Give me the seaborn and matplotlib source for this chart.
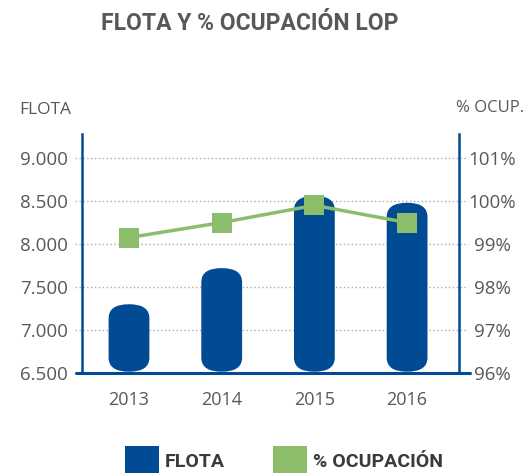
import numpy as np
import pandas as pd
import matplotlib
matplotlib.use("Agg")
import matplotlib.pyplot as plt
import seaborn as sns
from matplotlib import font_manager
from matplotlib.patches import FancyBboxPatch, Rectangle
from matplotlib.lines import Line2D
from matplotlib.transforms import blended_transform_factory

# --- Data ---
years = ["2013", "2014", "2015", "2016"]
flota = [7300, 7720, 8560, 8480]
ocupacion = [99.15, 99.5, 99.9, 99.5]
flota_ticks = [6500, 7000, 7500, 8000, 8500, 9000]
flota_labels = ["6.500", "7.000", "7.500", "8.000", "8.500", "9.000"]
ocup_ticks = [96, 97, 98, 99, 100, 101]
ocup_labels = ["96%", "97%", "98%", "99%", "100%", "101%"]

BLUE = "#004B93"
GREEN = "#8BBD6B"
GRAY = "#585858"
DARK = "#3A3A3A"

# --- Fonts: pick the first installed family ---
available = {f.name for f in font_manager.fontManager.ttflist}


def pick(*names):
    for n in names:
        if n in available:
            return n
    return "DejaVu Sans"


sns.set_style("white")
body_font = pick("Open Sans", "Roboto", "Noto Sans")
title_font = pick("Liberation Sans Narrow", "DejaVu Sans Condensed", "Roboto", "Open Sans")
plt.rcParams["font.family"] = [body_font, "DejaVu Sans"]

W, H = 527, 473
fig = plt.figure(figsize=(W / 100, H / 100), dpi=100)
ax = fig.add_axes([82 / W, 1 - 373 / H, (459 - 82) / W, (373 - 134) / H])

# --- Bars (FLOTA) ---
df = pd.DataFrame({"year": years, "flota": flota})
sns.barplot(data=df, x="year", y="flota", color=BLUE, saturation=1,
            width=0.44, ax=ax)
ax.set_xlim(-0.507, 3.56)
ax.set_ylim(6500, 9280)

# replace the square bars with rounded "pill" bars
px_y = ax.transData.transform((0, 1000))[1] - ax.transData.transform((0, 0))[1]
base = 6515
for p in list(ax.patches):
    x, w, h = p.get_x(), p.get_width(), p.get_height()
    p.remove()
    r = w / 2
    ry_data = 14 / (px_y / 1000)
    aspect = ry_data / r
    ax.add_patch(FancyBboxPatch((x, base), w, h - base,
                                boxstyle=f"round,pad=0,rounding_size={r}",
                                mutation_aspect=aspect, fc=BLUE, ec="none",
                                zorder=2))

# --- Dotted gridlines, a bit past both axes ---
trans = blended_transform_factory(ax.transAxes, ax.transData)
for t in flota_ticks[1:]:
    ax.plot([-0.018, 1.025], [t, t], transform=trans, color="#ababab",
            lw=1.0, ls=(0, (1, 1.8)), clip_on=False, zorder=1)

# bottom axis line, extended
ax.add_line(Line2D([-0.016, 1.029], [0, 0], transform=ax.transAxes,
                   color=BLUE, lw=2.2, clip_on=False, zorder=5))

for s in ["top", "right", "bottom"]:
    ax.spines[s].set_visible(False)
ax.spines["left"].set_color(BLUE)
ax.spines["left"].set_linewidth(1.8)

ax.set_yticks(flota_ticks, flota_labels)
ax.tick_params(axis="y", length=0, pad=10, labelsize=13.5, labelcolor=GRAY)
ax.tick_params(axis="x", length=0, pad=13, labelsize=13, labelcolor=GRAY)
ax.set_xlabel("")
ax.set_ylabel("")

# --- Line (% OCUPACIÓN) ---
ax2 = ax.twinx()
sns.lineplot(x=np.arange(len(years)), y=ocupacion, ax=ax2, color=GREEN,
             lw=2.5, marker="s", markersize=14, markeredgewidth=0, zorder=6)
ax2.set_ylim(96, 96 + (9280 - 6500) / 500)
ax2.set_yticks(ocup_ticks, ocup_labels)
ax2.tick_params(axis="y", length=0, pad=24, labelsize=13.5, labelcolor=GRAY)
for lab in ax2.get_yticklabels():
    lab.set_ha("center")
for s in ["top", "left", "bottom"]:
    ax2.spines[s].set_visible(False)
ax2.spines["right"].set_color(BLUE)
ax2.spines["right"].set_linewidth(1.8)
ax2.set_ylabel("")

# --- Texts ---
fig.text(250 / W, 1 - 23 / H, "FLOTA Y % OCUPACIÓN LOP", ha="center",
         va="center", fontsize=16.5, fontweight="bold", color=GRAY,
         family=[title_font, "DejaVu Sans"])
fig.text(45 / W, 1 - 110 / H, "FLOTA", ha="center", va="center",
         fontsize=12.5, color=GRAY)
fig.text(490 / W, 1 - 108 / H, "% OCUP.", ha="center", va="center",
         fontsize=12, color=GRAY)

# --- Legend ---
for x0, color, label in [(125, BLUE, "FLOTA"), (273, GREEN, "% OCUPACIÓN")]:
    fig.add_artist(Rectangle((x0 / W, 1 - 480 / H), 34 / W, 34 / H,
                             transform=fig.transFigure, fc=color, ec="none"))
    fig.text((x0 + 40) / W, 1 - 462 / H, label, ha="left", va="center",
             fontsize=14, fontweight="bold", color=DARK,
             family=[title_font, "DejaVu Sans"])

fig.savefig("out.png", dpi=100)
